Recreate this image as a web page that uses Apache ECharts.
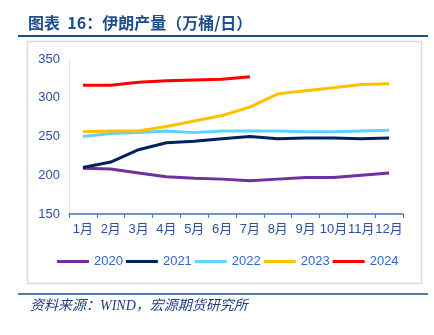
<!DOCTYPE html>
<html>
<head>
<meta charset="utf-8">
<script src="https://cdn.jsdelivr.net/npm/echarts@6/dist/echarts.min.js"></script>
<style>
  html, body { margin: 0; padding: 0; background: #fff; }
  #chart { width: 434px; height: 335px; }
</style>
</head>
<body>
<div id="chart"></div>
<script>
// Monthly labels
const months = ['1月','2月','3月','4月','5月','6月','7月','8月','9月','10月','11月','12月'];
// Iran crude output by year (10k barrels/day)
const y2020 = [209, 208, 203, 198, 196, 195, 193, 195, 197, 197, 200, 203];
const y2021 = [210, 217, 233, 242, 244, 247, 250, 247, 248, 248, 247, 248];
const y2022 = [250, 254, 255, 257, 255, 257, 257, 257, 256, 256, 257, 258];
const y2023 = [256, 257, 257, 263, 270, 277, 288, 305, 309, 313, 317, 318];
const y2024 = [316, 316, 320, 322, 323, 324, 327];
const seriesNames = ['2020', '2021', '2022', '2023', '2024'];
const seriesData = [y2020, y2021, y2022, y2023, y2024];
const colors = ['#7030A0', '#002060', '#5FD3FF', '#FFC000', '#FF0000'];

const titleText = '图表  16：伊朗产量（万桶/日）';
const sourceText = '资料来源：WIND，宏源期货研究所';

const chart = echarts.init(document.getElementById('chart'), null, { renderer: 'canvas' });
const labelColor = '#2F4E9E';

chart.setOption({
  animation: false,
  backgroundColor: '#fff',
  color: colors,
  graphic: [
    { type: 'text', left: 28, top: 15,
      style: { text: titleText, fill: '#1F4E8C', font: 'bold 16px "Noto Sans CJK SC", sans-serif' } },
    { type: 'line', shape: { x1: 18, y1: 36, x2: 428, y2: 36 },
      style: { stroke: '#1F4E8C', lineWidth: 2 } },
    { type: 'rect', shape: { x: 27.5, y: 41.5, width: 394, height: 242 },
      style: { fill: 'none', stroke: '#D9D9D9', lineWidth: 1.5 }, z: -1 },
    { type: 'line', shape: { x1: 18, y1: 294, x2: 428, y2: 294 },
      style: { stroke: '#1F4E8C', lineWidth: 1.5 } },
    { type: 'text', left: 30, top: 299,
      style: { text: sourceText, fill: '#1F3F80', font: 'italic 14px "Liberation Serif", "Noto Sans CJK SC", serif' } }
  ],
  grid: { left: 69, right: 31, top: 59, bottom: 121, containLabel: false },
  legend: {
    top: 250,
    left: 52,
    icon: 'rect',
    itemWidth: 32,
    itemHeight: 3,
    itemGap: 3,
    textStyle: { color: '#3366CC', fontSize: 13, fontFamily: '"Liberation Sans", Arial, sans-serif' },
    data: seriesNames
  },
  xAxis: {
    type: 'category',
    data: months,
    boundaryGap: true,
    axisLine: { lineStyle: { color: '#4472C4', width: 1.5 } },
    axisTick: { show: true, length: 4, alignWithLabel: false, lineStyle: { color: '#4472C4' } },
    axisLabel: { color: labelColor, fontSize: 13, margin: 9, interval: 0,
      fontFamily: '"Liberation Sans", "Noto Sans CJK SC", sans-serif' },
    splitLine: { show: false }
  },
  yAxis: {
    type: 'value',
    min: 150, max: 350, interval: 50,
    axisLine: { show: true, lineStyle: { color: '#DCE4F2', width: 1 } },
    axisTick: { show: false },
    splitLine: { show: false },
    axisLabel: { color: labelColor, fontSize: 13, margin: 9,
      fontFamily: '"Liberation Sans", Arial, sans-serif' }
  },
  series: seriesNames.map((name, i) => ({
    name: name,
    type: 'line',
    data: seriesData[i],
    symbol: 'none',
    smooth: false,
    lineStyle: { width: 3, color: colors[i] },
    itemStyle: { color: colors[i] }
  }))
});
</script>
</body>
</html>
